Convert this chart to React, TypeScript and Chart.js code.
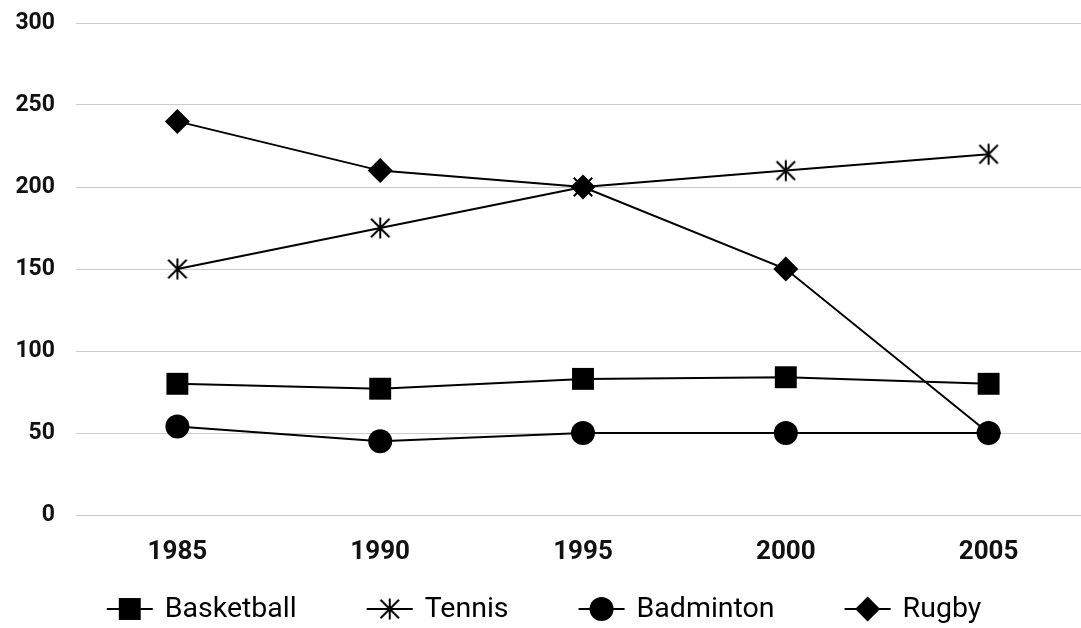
import React, { useEffect, useRef } from 'react';
import { Chart, registerables } from 'chart.js';

Chart.register(...registerables);

const years = ['1985', '1990', '1995', '2000', '2005'];
const basketball = [80, 77, 83, 84, 80];
const tennis = [150, 175, 200, 210, 220];
const badminton = [54, 45, 50, 50, 50];
const rugby = [240, 210, 200, 150, 50];
const seriesNames = ['Basketball', 'Tennis', 'Badminton', 'Rugby'];
const yMin = 0;
const yMax = 300;
const yStep = 50;

const FONT = 'Roboto, "Noto Sans", sans-serif';

function makeStar(size: number, lw: number): HTMLCanvasElement {
  const c = document.createElement('canvas');
  c.width = size;
  c.height = size;
  const ctx = c.getContext('2d')!;
  const m = size / 2;
  const r = size / 2 - 1.5;
  const d = r * 0.88;
  ctx.strokeStyle = '#000';
  ctx.lineWidth = lw;
  ctx.beginPath();
  ctx.moveTo(m, m - r);
  ctx.lineTo(m, m + r);
  ctx.moveTo(m - d, m - d);
  ctx.lineTo(m + d, m + d);
  ctx.moveTo(m + d, m - d);
  ctx.lineTo(m - d, m + d);
  ctx.stroke();
  return c;
}

function drawMarker(ctx: CanvasRenderingContext2D, style: any, radius: number, x: number, y: number) {
  ctx.fillStyle = '#000';
  if (typeof style === 'object' && style) {
    ctx.drawImage(style, x - style.width / 2, y - style.height / 2);
    return;
  }
  ctx.beginPath();
  if (style === 'rect') {
    const s = radius * Math.SQRT1_2;
    ctx.rect(x - s, y - s, 2 * s, 2 * s);
  } else if (style === 'rectRot') {
    ctx.moveTo(x - radius, y);
    ctx.lineTo(x, y - radius);
    ctx.lineTo(x + radius, y);
    ctx.lineTo(x, y + radius);
    ctx.closePath();
  } else {
    ctx.arc(x, y, radius, 0, Math.PI * 2);
  }
  ctx.fill();
}

const legendPlugin = {
  id: 'customLegend',
  afterDraw(chart: any) {
    const ctx: CanvasRenderingContext2D = chart.ctx;
    ctx.save();
    ctx.font = `28.5px ${FONT}`;
    ctx.textBaseline = 'middle';
    ctx.textAlign = 'left';
    const symW = 46;
    const gapText = 12;
    const gapItem = 70;
    const items = chart.data.datasets.map((ds: any) => ({
      label: ds.label,
      style: ds.pointStyle,
      radius: ds.pointRadius,
      w: ctx.measureText(ds.label).width,
    }));
    const total =
      items.reduce((s: number, it: any) => s + symW + gapText + it.w, 0) + gapItem * (items.length - 1);
    let x = 544 - total / 2;
    const y = 609;
    items.forEach((it: any) => {
      ctx.strokeStyle = '#000';
      ctx.lineWidth = 2;
      ctx.beginPath();
      ctx.moveTo(x, y);
      ctx.lineTo(x + symW, y);
      ctx.stroke();
      drawMarker(ctx, it.style, it.radius, x + symW / 2, y);
      ctx.fillStyle = '#000';
      ctx.fillText(it.label, x + symW + gapText, y + 1);
      x += symW + gapText + it.w + gapItem;
    });
    ctx.restore();
  },
};

export default function App() {
  const ref = useRef<HTMLCanvasElement>(null);

  useEffect(() => {
    const canvas = ref.current!;
    const star = makeStar(24, 2);
    const values = [basketball, tennis, badminton, rugby];
    const styles: any[] = ['rect', star, 'circle', 'rectRot'];
    const radii = [15.5, 12, 12, 12.5];
    const chart = new Chart(canvas, {
      type: 'line',
      data: {
        labels: years,
        datasets: seriesNames.map((name, i) => ({
          label: name,
          data: values[i],
          borderColor: '#000',
          backgroundColor: '#000',
          borderWidth: 2,
          pointStyle: styles[i],
          pointRadius: radii[i],
          pointHoverRadius: radii[i],
          pointBackgroundColor: '#000',
          pointBorderColor: '#000',
          pointBorderWidth: 0,
          tension: 0,
          fill: false,
          clip: false as any,
        })),
      },
      options: {
        responsive: false,
        animation: false,
        devicePixelRatio: 1,
        layout: { autoPadding: false, padding: { top: 23, left: 0, right: 0, bottom: 63 } },
        plugins: {
          legend: { display: false },
          tooltip: { enabled: false },
        },
        scales: {
          x: {
            offset: true,
            grid: { display: false },
            border: { display: false },
            ticks: {
              color: '#111',
              padding: 14,
              maxRotation: 0,
              font: { family: FONT, size: 26, weight: 'bold' },
            },
            afterFit: (scale: any) => {
              scale.height = 50;
            },
          },
          y: {
            min: yMin,
            max: yMax,
            grid: {
              color: '#cccccc',
              lineWidth: 1,
              drawTicks: true,
              tickLength: 21,
              tickColor: 'rgba(0,0,0,0)',
            },
            border: { display: false },
            ticks: {
              stepSize: yStep,
              color: '#111',
              padding: 0,
              font: { family: FONT, size: 23, weight: 'bold' },
            },
            afterFit: (scale: any) => {
              scale.width = 76;
            },
          },
        },
      },
      plugins: [legendPlugin],
    });
    return () => chart.destroy();
  }, []);

  return (
    <div style={{ position: 'fixed', left: 0, top: 0, width: 1100, height: 628, overflow: 'hidden', background: '#fff' }}>
      <canvas ref={ref} width={1090} height={628} style={{ width: 1090, height: 628, display: 'block' }} />
    </div>
  );
}
